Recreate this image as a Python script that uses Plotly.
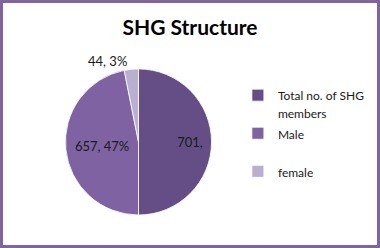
import plotly.graph_objects as go

categories = ["Total no. of SHG<br>members", "Male<br> ", "female"]
values = [701, 657, 44]
label_templates = ["\u00a0" * 9 + "%{value},", "%{value}, %{percent:.0%}", "%{value}, %{percent:.0%}"]
label_positions = ["inside", "inside", "outside"]
colors = ["#654E86", "#7F62A1", "#B9AFD0"]

legend_labels = ['<span style="font-size:12px">' + c.replace("<br>", "</span><br><span style=\"font-size:12px\">") + "</span>"
                 for c in categories]

fig = go.Figure(go.Pie(
    labels=legend_labels,
    values=values,
    sort=False,
    direction="clockwise",
    rotation=0,
    marker=dict(colors=colors, line=dict(color="#FFFFFF", width=0.8)),
    texttemplate=label_templates,
    textposition=label_positions,
    insidetextorientation="horizontal",
    textfont=dict(family="Lato, sans-serif", size=13, color="#1A1A1A"),
    domain=dict(x=[0.171, 0.558], y=[0.133, 0.722]),
    hoverinfo="value+percent",
))

fig.update_layout(
    width=380, height=248,
    margin=dict(l=0, r=0, t=0, b=0, autoexpand=False),
    paper_bgcolor="#FFFFFF",
    title=dict(text="<b>SHG Structure</b>", x=0.5, xanchor="center", y=0.89, yanchor="middle",
               font=dict(family="Lato, sans-serif", size=21, color="#000000")),
    showlegend=True,
    legend=dict(x=0.626, y=0.678, xanchor="left", yanchor="top", valign="top",
                font=dict(family="Lato, sans-serif", size=13.5, color="#1A1A1A"),
                itemwidth=30, bgcolor="rgba(0,0,0,0)"),
    shapes=[dict(type="rect", xref="paper", yref="paper", x0=0, x1=1, y0=0, y1=1,
                 line=dict(color="#8064A2", width=6), fillcolor="rgba(0,0,0,0)")],
)

fig.write_html("out.html")
